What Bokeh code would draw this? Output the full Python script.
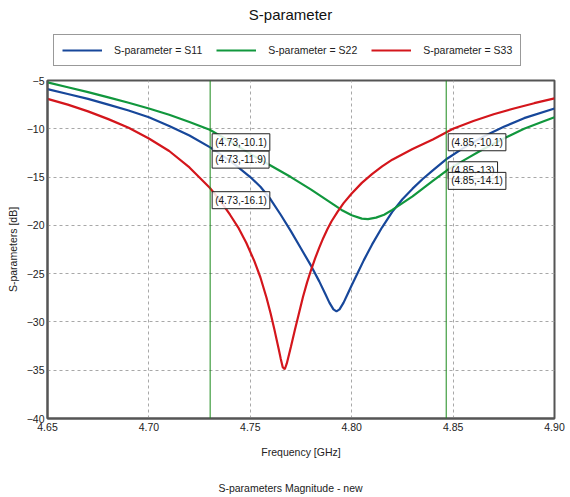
from bokeh.plotting import figure
from bokeh.layouts import column
from bokeh.models import (Range1d, FixedTicker, PrintfTickFormatter, Span, Label,
                          Legend, LegendItem)
from bokeh.embed import file_html
from bokeh.resources import INLINE

# ---- data ----
freq_s11 = [4.65, 4.66, 4.67, 4.68, 4.69, 4.70, 4.71, 4.72, 4.73, 4.74, 4.75, 4.755, 4.76,
            4.765, 4.77, 4.775, 4.78, 4.784, 4.787, 4.789, 4.791, 4.7925, 4.794, 4.796,
            4.798, 4.80, 4.803, 4.806, 4.81, 4.815, 4.82, 4.825, 4.83, 4.835, 4.84,
            4.847, 4.855, 4.865, 4.875, 4.885, 4.90]
s11 = [-5.9, -6.4, -6.9, -7.5, -8.1, -8.8, -9.7, -10.7, -11.9, -13.3, -15.0, -16.0, -17.3,
       -18.9, -20.6, -22.4, -24.2, -25.8, -27.1, -28.0, -28.7, -28.9, -28.7, -28.0,
       -27.1, -26.2, -24.9, -23.6, -22.0, -20.2, -18.6, -17.3, -16.2, -15.2, -14.3,
       -13.1, -12.0, -10.8, -9.8, -8.9, -7.9]

freq_s22 = [4.65, 4.66, 4.67, 4.68, 4.69, 4.70, 4.71, 4.72, 4.73, 4.74, 4.75, 4.76, 4.77,
            4.78, 4.785, 4.79, 4.795, 4.80, 4.805, 4.808, 4.812, 4.816, 4.82, 4.825, 4.83,
            4.835, 4.84, 4.847, 4.855, 4.865, 4.875, 4.885, 4.895, 4.90]
s22 = [-5.2, -5.7, -6.2, -6.75, -7.3, -7.9, -8.55, -9.3, -10.1, -11.3, -12.6, -13.8, -15.0,
       -16.3, -17.0, -17.7, -18.4, -18.95, -19.3, -19.35, -19.2, -18.9, -18.4, -17.7, -17.0,
       -16.2, -15.4, -14.3, -13.3, -12.1, -11.0, -10.0, -9.2, -8.8]

freq_s33 = [4.65, 4.66, 4.67, 4.68, 4.69, 4.70, 4.71, 4.72, 4.73, 4.735, 4.74, 4.744, 4.748,
            4.752, 4.755, 4.758, 4.76, 4.762, 4.764, 4.765, 4.766, 4.767, 4.768, 4.77,
            4.772, 4.774, 4.776, 4.778, 4.78, 4.782, 4.784, 4.786, 4.788, 4.79, 4.793,
            4.796, 4.80, 4.805, 4.81, 4.815, 4.82, 4.83, 4.84, 4.85, 4.86, 4.87, 4.88,
            4.89, 4.90]
s33 = [-6.9, -7.5, -8.2, -9.0, -9.9, -11.0, -12.3, -14.0, -16.1, -17.4, -18.9, -20.2, -21.8,
       -23.7, -25.4, -27.5, -29.1, -30.9, -32.8, -33.8, -34.7, -34.9, -34.3, -32.6,
       -30.8, -29.1, -27.4, -25.9, -24.6, -23.4, -22.3, -21.3, -20.4, -19.6, -18.6,
       -17.7, -16.7, -15.6, -14.7, -13.9, -13.2, -12.1, -11.1, -10.0, -9.2, -8.5, -7.9,
       -7.35, -6.85]

series_names = ["S-parameter = S11", "S-parameter = S22", "S-parameter = S33"]
series_colors = ["#17479a", "#11973d", "#d4161c"]

marker_freqs = [4.7302, 4.8466]
marker_vals = [[-10.1, -11.9, -16.1], [-10.1, -13, -14.1]]

x_ticks = [4.65, 4.70, 4.75, 4.80, 4.85, 4.90]
y_ticks = [-40, -35, -30, -25, -20, -15, -10, -5]

title_text = "S-parameter"
footer_text = "S-parameters Magnitude - new"

FONT = "Liberation Sans"
W = 570
FL, FR = 47, 16          # frame borders (left / right), shared by all rows
HEAD_H, FOOT_H = 75, 34
MAIN_H = 497 - HEAD_H - FOOT_H


def blank(h):
    f = figure(width=W, height=h, output_backend="svg", toolbar_location=None,
               x_range=Range1d(0, 1), y_range=Range1d(0, 1),
               x_axis_type=None, y_axis_type=None,
               min_border_left=FL, min_border_right=FR,
               min_border_top=0, min_border_bottom=0,
               background_fill_color="white", border_fill_color="white")
    f.outline_line_color = None
    f.xgrid.visible = False
    f.ygrid.visible = False
    return f


# ---- header: title + legend ----
head = blank(HEAD_H)
head.add_layout(Label(x=290 - FL, y=HEAD_H - 14, x_units="screen", y_units="screen",
                      text=title_text, text_align="center",
                      text_baseline="middle", text_font=FONT, text_font_size="15px",
                      text_color="#111111"))
# legend lines carry the series data; it lies outside this header's ranges, so only the legend glyph shows
leg_renderers = [head.line(x=fx, y=vy, line_color=c, line_width=2.2)
                 for fx, vy, c in zip([freq_s11, freq_s22, freq_s33], [s11, s22, s33], series_colors)]
legend = Legend(items=[LegendItem(label=n, renderers=[r]) for n, r in zip(series_names, leg_renderers)],
                orientation="horizontal", location=(53 - FL, 9),
                glyph_width=40, glyph_height=14, label_height=14, label_standoff=12,
                spacing=14, padding=8, margin=0,
                label_text_font=FONT, label_text_font_size="10.5px",
                label_text_color="#222222",
                border_line_color="#333333", border_line_width=1,
                background_fill_color="white", background_fill_alpha=1)
head.add_layout(legend)

# ---- main plot ----
p = figure(width=W, height=MAIN_H, output_backend="svg", toolbar_location=None,
           x_range=Range1d(4.65, 4.90), y_range=Range1d(-40, -5),
           min_border_left=FL, min_border_right=FR, min_border_top=5,
           min_border_bottom=MAIN_H - 5 - 338, background_fill_color="white",
           border_fill_color="white")

for ax in (p.xaxis[0], p.yaxis[0]):
    ax.major_tick_line_color = None
    ax.minor_tick_line_color = None
    ax.axis_line_color = "#555555"
    ax.axis_line_width = 2
    ax.major_label_text_font = FONT
    ax.major_label_text_font_size = "10.5px"
    ax.major_label_text_color = "#222222"
    ax.axis_label_text_font = FONT
    ax.axis_label_text_font_size = "10.5px"
    ax.axis_label_text_font_style = "normal"
    ax.axis_label_text_color = "#222222"
    ax.major_tick_out = 0
    ax.major_tick_in = 0

p.xaxis[0].ticker = FixedTicker(ticks=x_ticks)
p.xaxis[0].formatter = PrintfTickFormatter(format="%.2f")
p.xaxis[0].axis_label = "Frequency [GHz]"
p.xaxis[0].major_label_standoff = 4
p.xaxis[0].axis_label_standoff = 12

p.yaxis[0].ticker = FixedTicker(ticks=y_ticks)
p.yaxis[0].axis_label = "S-parameters [dB]"
p.yaxis[0].major_label_standoff = 3
p.yaxis[0].axis_label_standoff = 5

p.outline_line_color = "#555555"
p.outline_line_width = 2

for g in (p.xgrid[0], p.ygrid[0]):
    g.grid_line_color = "#a8a8a8"
    g.grid_line_dash = "3 3"
    g.grid_line_width = 1

for fx, vy, col in zip([freq_s11, freq_s22, freq_s33], [s11, s22, s33], series_colors):
    p.line(fx, vy, line_color=col, line_width=2.2)

for mf, vals in zip(marker_freqs, marker_vals):
    p.add_layout(Span(location=mf, dimension="height", line_color="#1a8a1a", line_width=1))
    for v in vals:
        p.add_layout(Label(x=mf, y=v, x_offset=2, y_offset=-4,
                           text="({:.2f},{:g})".format(mf, v),
                           text_align="left", text_baseline="top",
                           text_font=FONT, text_font_size="10px", text_color="#111111",
                           background_fill_color="white", background_fill_alpha=0.85,
                           border_line_color="#222222", border_line_width=1,
                           padding=(3, 3)))

# ---- footer ----
foot = blank(FOOT_H)
foot.add_layout(Label(x=290 - FL, y=FOOT_H - 24, x_units="screen", y_units="screen",
                      text=footer_text, text_align="center",
                      text_baseline="middle", text_font=FONT, text_font_size="10.5px",
                      text_color="#222222"))

layout = column(head, p, foot, spacing=0)
open("out.html", "w").write(file_html(layout, INLINE))
